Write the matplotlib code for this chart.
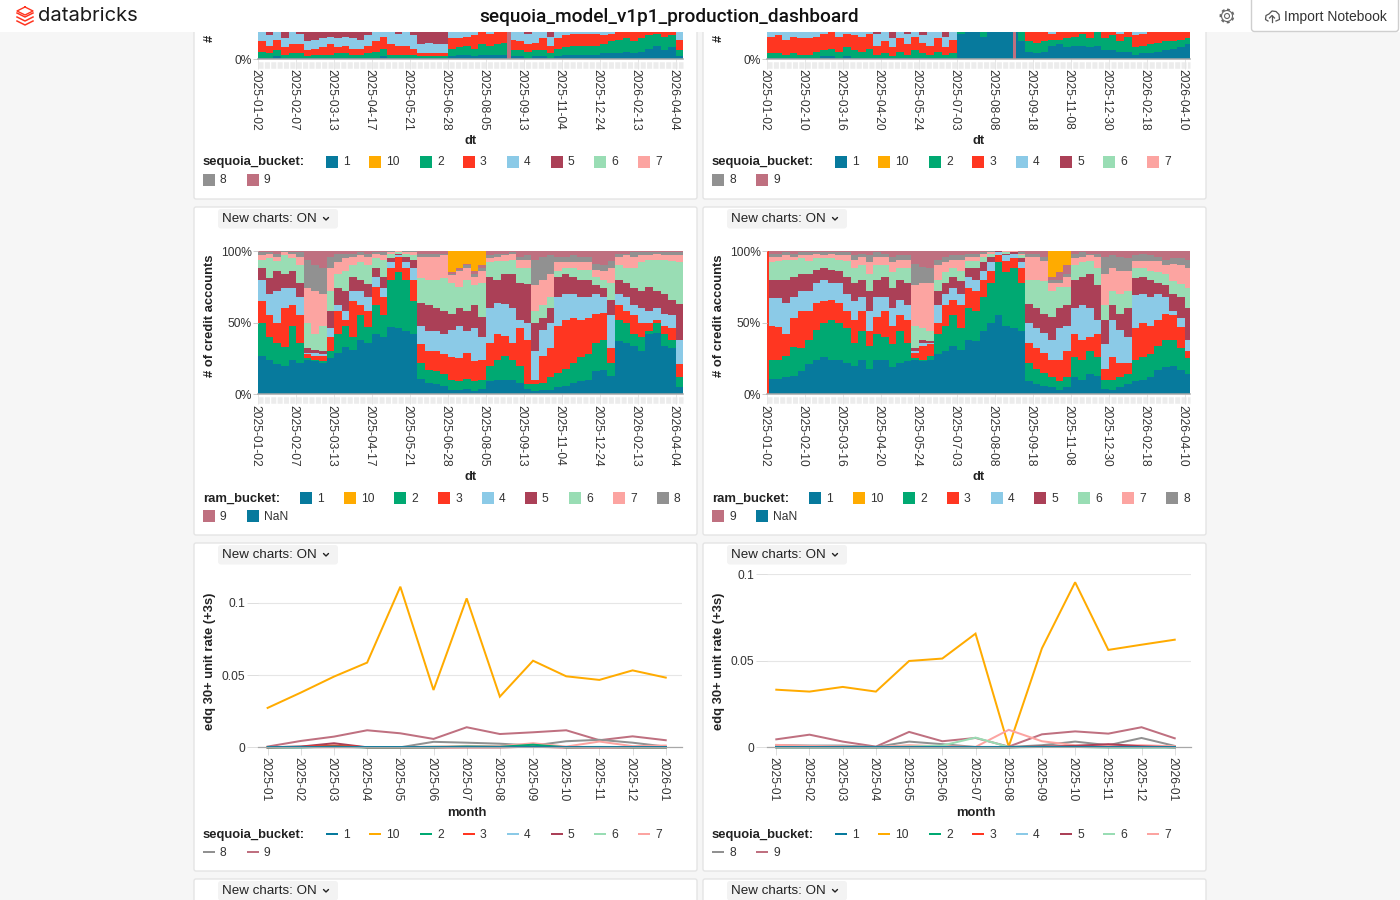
import numpy as np
import matplotlib
matplotlib.use('Agg')
import matplotlib.pyplot as plt
from matplotlib.patches import FancyBboxPatch, Rectangle, Circle
from matplotlib.transforms import ScaledTranslation

plt.rcParams['font.family'] = ['Liberation Sans', 'DejaVu Sans']

W, H = 1400, 900
BG = '#f6f6f6'
BORDER = '#e4e4e4'
TXT = '#222222'
PX = 0.72  # 1 px in points at dpi 100

# -------------------------------------------------------------
# Data
# -------------------------------------------------------------
BUCKETS = ['1', '10', '2', '3', '4', '5', '6', '7', '8', '9']
COLORS = {'1': '#077A9D', '10': '#FFAB00', '2': '#00A972', '3': '#FF3621', '4': '#8BCAE7',
          '5': '#AB4057', '6': '#99DDB4', '7': '#FCA4A1', '8': '#919191', '9': '#BF7080',
          'NaN': '#077A9D'}

dt_ticks_a = ['2025-01-02', '2025-02-07', '2025-03-13', '2025-04-17', '2025-05-21', '2025-06-28',
              '2025-08-05', '2025-09-13', '2025-11-04', '2025-12-24', '2026-02-13', '2026-04-04']
dt_ticks_b = ['2025-01-02', '2025-02-10', '2025-03-16', '2025-04-20', '2025-05-24', '2025-07-03',
              '2025-08-08', '2025-09-18', '2025-11-08', '2025-12-30', '2026-02-18', '2026-04-10']
months = ['2025-01', '2025-02', '2025-03', '2025-04', '2025-05', '2025-06', '2025-07',
          '2025-08', '2025-09', '2025-10', '2025-11', '2025-12', '2026-01']

# ram_bucket share, left chart: upper edge of each band in percent
ram_a_1 = [27,24,21,20,24,22,24,23,22,25, 29,33,31,38,36,42,40,47,46,44, 42,11,8,7,6,3,3,4,2,4,
           9,10,10,10,8,4,2,3,3,5, 6,8,9,10,16,17,13,37,36,34, 30,42,43,34,32,5]
ram_a_2 = [50,40,36,33,48,36,25,24,23,30, 42,48,40,55,47,62,55,80,85,80, 65,22,17,16,14,10,9,11,9,10,
           20,24,27,24,20,7,7,8,12,15, 18,22,26,28,36,38,22,52,50,42, 40,44,50,42,38,12]
ram_a_3 = [65,55,50,60,62,55,28,27,27,40, 58,52,65,62,58,75,68,88,96,88, 80,35,30,30,28,26,25,29,23,24,
           36,42,41,36,46,38,10,27,32,48, 52,53,52,53,56,57,32,62,58,55, 50,50,52,48,46,21]
ram_a_4 = [80,70,72,74,74,68,29,29,28,46, 62,58,72,72,68,82,74,92,97,92, 88,48,44,44,42,45,48,44,46,40,
           60,64,63,60,52,50,30,45,50,68, 70,70,68,68,70,68,55,70,68,62, 60,58,60,56,55,38]
ram_a_5 = [88,81,86,84,86,78,32,31,30,58, 74,72,82,80,77,88,82,95,98,96, 94,64,62,60,58,56,60,58,62,54,
           82,80,84,84,78,77,50,53,60,82, 84,82,80,80,76,74,66,80,78,74, 72,75,72,70,66,63]
ram_a_6 = [94,95,93,97,95,90,50,42,48,72, 84,86,90,92,90,95,94,98,99,98, 97,81,80,80,81,78,75,80,76,78,
           92,93,93,94,88,88,58,62,68,86, 88,88,87,87,82,80,78,90,88,88, 92,94,94,94,93,92]
ram_a_7 = [97,98,96,99,98,96,74,72,70,88, 92,95,96,97,96,98,97,99,100,99, 99,96,96,96,97,83,86,88,82,86,
           95,96,97,98,94,94,76,80,84,92, 92,92,92,92,87,86,88,96,97,96, 97,97,98,97,97,97]
ram_a_8 = [99,99,98,100,99,99,94,90,88,96, 98,98,98,99,98,99,99,100,100,100, 100,98,98,98,98,84,87,90,84,88,
           97,98,98,99,96,97,94,96,97,96, 96,97,96,96,91,90,93,98,98,99, 99,99,99,99,99,99]
ram_a_9 = [100,100,100,100,100,100,100,100,100,100, 100,100,100,100,100,100,100,100,100,100,
           100,100,100,100,100,85,88,91,86,90, 100,100,100,100,100,100,100,100,100,100,
           100,100,100,100,100,100,100,100,100,100, 100,100,100,100,100,100]

# ram_bucket share, right chart
ram_b_1 = [11,11,12,13,16,21,24,26,24,24, 22,20,24,18,24,24,19,22,23,24, 23,24,28,30,34,31,38,37,44,50,
           55,48,46,44,9,7,6,5,3,5, 12,10,14,13,4,3,5,7,9,10, 12,17,19,20,17,14]
ram_b_2 = [24,24,27,33,32,38,45,50,52,50, 46,36,44,34,42,40,35,44,36,25, 24,27,42,48,55,46,60,58,68,78,
           92,85,88,78,22,18,15,12,9,12, 26,24,30,26,10,10,12,14,24,26, 28,34,38,38,32,25]
ram_b_3 = [48,47,42,53,58,58,64,65,66,64, 58,52,58,44,54,58,48,55,52,29, 34,35,50,62,66,62,74,72,80,86,
           97,93,95,88,36,32,29,24,24,30, 42,38,40,42,18,26,22,22,46,50, 48,52,56,55,47,30]
ram_b_4 = [67,67,64,68,72,72,78,80,78,78, 70,65,68,58,68,68,60,66,62,30, 36,36,62,70,74,70,82,80,86,92,
           99,97,98,92,50,46,43,38,46,48, 60,62,60,52,35,52,45,40,69,70, 68,70,68,58,53,38]
ram_b_5 = [80,80,80,82,84,84,87,88,87,86, 82,78,80,72,80,82,74,80,78,32, 38,37,72,78,82,79,88,88,92,96,
           100,98,99,95,63,60,56,54,60,62, 80,82,84,76,52,62,56,60,81,82, 80,78,76,70,68,60]
ram_b_6 = [92,93,94,94,95,93,95,95,95,94, 93,88,90,84,90,90,85,88,88,48, 46,44,80,85,88,86,93,93,96,98,
           100,99,99,97,80,80,79,72,75,75, 90,92,93,88,62,72,70,72,88,88, 86,85,84,79,77,74]
ram_b_7 = [96,96,97,96,97,97,98,97,98,97, 97,94,96,92,96,96,92,94,94,76, 78,78,90,92,94,94,96,96,98,99,
           100,100,100,98,96,96,93,78,78,82, 95,96,97,96,84,88,86,86,93,93, 93,93,90,91,90,88]
ram_b_8 = [98,98,99,98,99,99,99,99,99,99, 99,97,98,97,99,98,96,97,97,91, 89,88,94,96,97,97,98,98,99,100,
           100,100,100,99,98,98,96,80,80,84, 98,99,98,98,96,97,96,95,97,98, 97,96,94,95,95,94]
ram_b_9 = [100,100,100,100,100,100,100,100,100,100, 100,100,100,100,100,100,100,100,100,100,
           100,100,100,100,100,100,100,100,100,100, 100,100,100,100,100,100,100,82,85,90,
           100,100,100,100,100,100,100,100,100,100, 100,100,100,100,100,100]

# sequoia_bucket share, only the lowest part is visible under the page header
seq_a_1 = [1,1,2,1,1,1,1,1,1,1, 1,1,1,1,1,1,2,1,1,1, 1,1,1,1,1,2,3,3,2,3,
           3,3,3,2,2,1,2,2,1,2, 3,3,3,3,3,4,4,4,5,4, 5,7,9,6,8,2]
seq_a_2 = [5,4,6,3,4,4,2,3,3,3, 4,4,3,3,4,5,7,3,3,3, 3,2,2,2,2,7,8,9,7,10,
           9,10,11,6,6,5,6,6,4,7, 8,9,9,9,9,10,12,13,14,12, 14,16,17,15,16,6]
seq_a_3 = [12,9,13,8,10,10,6,7,8,10, 8,9,7,7,9,12,15,10,9,9, 7,4,4,4,4,14,14,15,16,18,
           17,18,18,13,12,10,11,14,9,14, 16,17,17,17,17,16,17,18,18,18, 18,19,19,19,19,13]
seq_a_4 = [19,16,19,14,18,17,12,13,14,15, 14,15,14,13,16,19,19,18,17,19, 16,10,11,10,10,19,19,19,19,19,
           19,19,19,19,18,17,19,19,15,19, 19,19,19,19,19,19,19,19,19,19, 19,19,19,19,19,19]

seq_b_1 = [1,1,0.5,1,1, 1,1,2,2,1,2,1,1,1, 1,1,1,1,1,1,1,1,1,1,1, 17,19,19,15,19,19,19,19,
           12, 5,4,5, 9,10,8, 9,9,8,9, 6,6,5,5, 3,4,4,5,6,7,8,10]
seq_b_2 = [4,4,3,4,3, 3,5,6,7,5,8,6,5,7, 3,4,2,5,3,6,4,3,5,3,4, 19,19,19,18,19,19,19,19,
           18, 12,11,12, 13,13,14, 15,17,14,18, 14,16,12,15, 8,9,10,11,12,12,13,14]
seq_b_3 = [15,16,13,15,14, 14,15,17,18,15,17,16,15,17, 9,12,8,14,10,15,11,9,14,8,13, 19,19,19,19,19,19,19,19,
           19, 18,19,18, 17,18,19, 19,19,19,19, 18,19,17,18, 16,17,18,18,19,18,19,19]
seq_b_4 = [19,19,19,19,19, 19,19,19,19,19,19,19,19,19, 17,19,14,19,17,19,16,18,19,15,18, 19,19,19,19,19,19,19,19,
           19, 19,19,19, 19,19,19, 19,19,19,19, 19,19,19,19, 19,19,19,19,19,19,19,19]

# edq 30+ unit rate by month, left chart
edq_a = {
    '10': [.0273,.0379,.049,.0587,.1113,.0397,.1032,.0351,.060,.0492,.0467,.0533,.0483],
    '9': [.0005,.0044,.0074,.0118,.0097,.0058,.0139,.0092,.0104,.0118,.0049,.0076,.0049],
    '8': [0,.0005,.001,0,0,.0038,.0032,.0025,.0012,.0042,.0052,.0032,.0005],
    '7': [0,0,0,0,0,.0005,.001,.0008,.0028,.0005,.004,.0008,.0012],
    '6': [0,0,.0003,0,0,.0004,.0004,.0003,.0006,.0002,.0003,.0001,0],
    '5': [0,.0005,.0028,0,0,0,0,0,.0004,0,0,0,0],
    '4': [0,0,.0002,0,0,0,.0002,.0001,.0003,0,0,0,0],
    '3': [0,.0002,.0012,0,0,0,.0001,.0001,.0003,0,0,0,0],
    '2': [0,0,.0005,0,0,0,.0005,.0003,.0018,0,.0002,0,0],
    '1': [.0002,.0002,.0002,.0002,.0002,.0002,.0002,.0002,.0002,.0002,.0002,.0002,.0002],
}
# right chart
edq_b = {
    '10': [.0333,.0322,.0349,.0322,.0499,.0513,.0657,.0004,.0572,.0954,.0563,.0593,.0622],
    '9': [.0046,.0073,.0033,.0004,.0089,.0035,.0054,.0004,.0075,.0092,.0079,.0116,.0052],
    '8': [.0012,.001,.001,.0002,.0033,.0018,.0002,.0002,.0012,.0033,.0012,.0054,.0008],
    '7': [.0014,.0008,.0005,.0001,.0012,.0006,.0002,.0101,.0035,.0012,.001,.0012,.0006],
    '6': [0,0,0,0,.0004,.001,.0056,.0002,.0002,.0002,0,0,0],
    '5': [0,0,0,0,0,0,0,0,.0005,.0008,.0018,.0006,0],
    '4': [0,0,0,0,0,0,0,0,0,0,0,0,0],
    '3': [0,0,0,0,0,0,0,0,0,0,0,0,0],
    '2': [0,0,0,0,0,0,0,0,.0002,.0002,0,0,0],
    '1': [.0003,.0003,.0003,.0003,.0003,.0003,.0003,.0003,.0003,.0003,.0003,.0003,.0003],
}

# thin one-day columns that stand out from the rest: (x in column units, width, bucket)
spikes_seq_a = [(32.8, 0.45, '9')]
spikes_seq_b = [(32.4, 0.45, '9')]
spikes_ram_b = [(0, 0.3, '3')]

# -------------------------------------------------------------
# Page background and cards
# -------------------------------------------------------------
fig = plt.figure(figsize=(W / 100, H / 100), dpi=100, facecolor=BG)
page = fig.add_axes([0, 0, 1, 1], zorder=0)
page.set_xlim(0, W)
page.set_ylim(H, 0)
page.axis('off')


def px_axes(x0, y0, x1, y1):
    ax = fig.add_axes([x0 / W, 1 - y1 / H, (x1 - x0) / W, (y1 - y0) / H], zorder=1)
    ax.patch.set_alpha(0)
    for s in ['top', 'left', 'right']:
        ax.spines[s].set_visible(False)
    return ax


def nudge_xlabels(ax, dx_px):
    # rotated labels sit a bit right of the tick otherwise
    for lab in ax.get_xticklabels():
        lab.set_transform(lab.get_transform() + ScaledTranslation(dx_px / 100, 0, fig.dpi_scale_trans))


def card(x0, y0, x1, y1):
    page.add_patch(FancyBboxPatch((x0, y0), x1 - x0, y1 - y0, boxstyle='round,pad=0,rounding_size=2',
                                  fc='white', ec=BORDER, lw=1))


def chart_button(x, y):
    page.add_patch(FancyBboxPatch((x, y), 120, 19.5, boxstyle='round,pad=0,rounding_size=3',
                                  fc='#f3f3f3', ec='none'))
    page.text(x + 4, y + 10.5, 'New charts: ON', fontsize=13.4 * PX, color=TXT, va='center', ha='left')
    page.plot([x + 105.5, x + 108, x + 110.5], [y + 8.5, y + 11, y + 8.5], color=TXT, lw=1, solid_capstyle='round')


def stack_chart(x0, y0, x1, y1, tops, names, ticks, ylim, yticks, spikes=(), pct_width=55.96):
    ax = px_axes(x0, y0, x1, y1)
    tops = np.maximum.accumulate(np.array(tops, dtype=float), axis=0)
    cols = np.arange(tops.shape[1])
    base = np.zeros(tops.shape[1])
    for name, top in zip(names, tops):
        ax.bar(cols, top - base, bottom=base, width=1.02, align='edge', color=COLORS[name], lw=0)
        base = top
    for sx, sw, name in spikes:
        ax.bar(sx, 100, width=sw, align='edge', color=COLORS[name], lw=0)
    ax.set_xlim(0, pct_width)
    ax.set_ylim(*ylim)
    ax.set_yticks(yticks)
    ax.set_yticklabels([f'{v}%' for v in yticks])
    ax.set_xticks(cols[::5])
    ax.set_xticklabels(ticks)
    ax.tick_params(axis='x', length=10 * PX, width=0.7, color='#e6e6e6', pad=0.3, labelsize=12 * PX,
                   labelcolor='#333333', labelrotation=-90)
    ax.tick_params(axis='y', length=5 * PX, width=0.7, color='#cccccc', pad=0.8, labelsize=12 * PX,
                   labelcolor='#333333')
    ax.spines['bottom'].set_color('#a8a8a8')
    ax.spines['bottom'].set_linewidth(1.1)
    nudge_xlabels(ax, -2.5)
    # band of light tick blocks right under the axis
    page.plot([x0, x1], [y1 + 5.8, y1 + 5.8], color='#ececec', lw=6.5 * PX, ls=(0, (0.78, 0.2)),
              dash_capstyle='butt')
    return ax


def line_chart(x0, y0, x1, y1, series, ylim, xlim):
    ax = px_axes(x0, y0, x1, y1)
    xs = np.arange(len(months))
    ax.set_axisbelow(True)
    ax.yaxis.grid(True, color='#e6e6e6', lw=0.8)
    for name, vals in series.items():
        ax.plot(xs, vals, color=COLORS[name], lw=2 * PX, solid_joinstyle='miter', clip_on=False)
    ax.set_xlim(*xlim)
    ax.set_ylim(*ylim)
    ax.set_yticks([0, 0.05, 0.1])
    ax.set_yticklabels(['0', '0.05', '0.1'])
    ax.set_xticks(xs)
    ax.set_xticklabels(months)
    ax.tick_params(axis='x', length=8 * PX, width=0.7, color='#dddddd', pad=1.3, labelsize=12 * PX,
                   labelcolor='#333333', labelrotation=-90)
    ax.tick_params(axis='y', length=11 * PX, width=0.7, color='#dddddd', pad=1.5, labelsize=12 * PX,
                   labelcolor='#333333')
    ax.spines['bottom'].set_color('#a8a8a8')
    ax.spines['bottom'].set_linewidth(0.9)
    nudge_xlabels(ax, -2.5)
    return ax


def legend(title, names, xs, y, row2_y, kind='box'):
    page.text(xs[0][0], y + 1, title, fontsize=13 * PX, fontweight='bold', color=TXT, va='center', ha='left')
    for (sx, sy), name in zip(xs[1:], names):
        yy = y if sy == 0 else row2_y
        key = '1' if name == 'NaN' else name
        if kind == 'box':
            page.add_patch(Rectangle((sx, yy - 6), 12, 12, fc=COLORS[key], ec='none'))
        else:
            page.plot([sx, sx + 12], [yy, yy], color=COLORS[key], lw=2 * PX, solid_capstyle='butt')
        page.text(sx + 17, yy + 0.8, name, fontsize=12 * PX, color='#333333', va='center', ha='left')


SEQ_POS = [(203, 0), (326, 0), (369, 0), (420, 0), (463, 0), (507, 0), (551, 0), (594, 0), (638, 0), (203, 1), (247, 1)]
RAM_POS = [(203, 0), (300, 0), (344, 0), (394, 0), (438, 0), (482, 0), (525, 0), (569, 0), (613, 0), (657, 0), (203, 1), (247, 1)]
RAM_NAMES = BUCKETS + ['NaN']
STACK_NAMES = ['1', '2', '3', '4', '5', '6', '7', '8', '9', '10']

for dx in [0, 509]:
    card(194 + dx, -20, 697 + dx, 199)
    card(194 + dx, 207, 697 + dx, 535)
    card(194 + dx, 543, 697 + dx, 871)
    card(194 + dx, 879, 697 + dx, 930)
    for y in [209, 545, 881]:
        chart_button(218 + dx, y)

# -------------------------------------------------------------
# Top row, cut off by the header
# -------------------------------------------------------------
stack_chart(258, 32, 683, 59, [seq_a_1, seq_a_2, seq_a_3, seq_a_4, [100] * 56],
            ['1', '2', '3', '4', '5'], dt_ticks_a, (0, 18.2), [0], spikes_seq_a)
stack_chart(767, 32, 1190, 59, [seq_b_1, seq_b_2, seq_b_3, seq_b_4, [100] * 56],
            ['1', '2', '3', '4', '5'], dt_ticks_b, (0, 18.2), [0], spikes_seq_b, pct_width=55.7)

# -------------------------------------------------------------
# ram_bucket charts
# -------------------------------------------------------------
stack_chart(258, 251, 683, 394.3,
            [ram_a_1, ram_a_2, ram_a_3, ram_a_4, ram_a_5, ram_a_6, ram_a_7, ram_a_8, ram_a_9, [100] * 56],
            STACK_NAMES, dt_ticks_a, (0, 100), [0, 50, 100])
stack_chart(767, 251, 1190, 394.3,
            [ram_b_1, ram_b_2, ram_b_3, ram_b_4, ram_b_5, ram_b_6, ram_b_7, ram_b_8, ram_b_9, [100] * 56],
            STACK_NAMES, dt_ticks_b, (0, 100), [0, 50, 100], spikes_ram_b, pct_width=55.7)

# -------------------------------------------------------------
# Line charts
# -------------------------------------------------------------
line_chart(258, 575, 682, 747.3, edq_a, (0, 0.1194), (-0.29, 12.49))
line_chart(767, 574.3, 1191, 747.3, edq_b, (0, 0.1), (-0.28, 12.49))

# -------------------------------------------------------------
# Axis titles and legends
# -------------------------------------------------------------
for dx, ticks in [(0, dt_ticks_a), (509, dt_ticks_b)]:
    # only the first sign of the top chart's title shows below the header
    page.text(210 + dx, 41.5, '#', rotation=90, fontsize=13 * PX, fontweight='bold',
              color=TXT, va='bottom', ha='center')
    page.text(210 + dx, 316, '# of credit accounts', rotation=90, fontsize=13 * PX, fontweight='bold',
              color=TXT, va='center', ha='center')
    page.text(210 + dx, 661, 'edq 30+ unit rate (+3s)', rotation=90, fontsize=13 * PX, fontweight='bold',
              color=TXT, va='center', ha='center')
    page.text(471 + dx - (1 if dx else 0), 141, 'dt', fontsize=13 * PX, fontweight='bold', color=TXT, va='center', ha='center')
    page.text(471 + dx - (1 if dx else 0), 477, 'dt', fontsize=13 * PX, fontweight='bold', color=TXT, va='center', ha='center')
    page.text(467 + dx, 813, 'month', fontsize=13 * PX, fontweight='bold', color=TXT, va='center', ha='center')

    seq_pos = [(x + dx, r) for x, r in SEQ_POS]
    ram_pos = [(x + dx, r) for x, r in RAM_POS]
    legend('sequoia_bucket:', BUCKETS, seq_pos, 161.5, 179.5)
    legend('ram_bucket:', RAM_NAMES, ram_pos, 498, 516)
    legend('sequoia_bucket:', BUCKETS, seq_pos, 834, 852, kind='line')

# -------------------------------------------------------------
# Page header on top of everything
# -------------------------------------------------------------
head = fig.add_axes([0, 0, 1, 1], zorder=5)
head.set_xlim(0, W)
head.set_ylim(H, 0)
head.axis('off')
head.patch.set_alpha(0)
head.add_patch(Rectangle((0, 0), W, 32, fc='white', ec='none'))
head.text(669.5, 17, 'sequoia_model_v1p1_production_dashboard', fontsize=19 * PX, family='Roboto', fontweight='medium',
          color='#111111', ha='center', va='center')
head.text(38, 16, 'databricks', fontsize=20.2 * PX, family='Inter', color='#1b1b1b', ha='left', va='center')

# logo: stacked layers
red = COLORS['3']
head.plot([25, 33, 25, 17, 25], [7, 11, 15, 11, 7], color=red, lw=1)
for yy in [14, 18, 22]:
    head.plot([17, 25, 33], [yy - 1, yy + 3, yy - 1], color=red, lw=1.1)

# gear
head.add_patch(Circle((1227, 16), 2.5, fc='none', ec='#666666', lw=0.8))
head.add_patch(Circle((1227, 16), 5.5, fc='none', ec='#666666', lw=0.8))
head.add_patch(Circle((1227, 16), 6.6, fc='none', ec='#666666', lw=1.2, ls=(0, (1.8, 1.8))))

# import button
head.add_patch(FancyBboxPatch((1251.5, -4), 147, 35.5, boxstyle='round,pad=0,rounding_size=3', fc='white',
                              ec='#cfcfcf', lw=1))
head.text(1284, 17, 'Import Notebook', fontsize=13.9 * PX, color='#333333', ha='left', va='center')
head.plot([1268, 1265.5, 1266, 1269, 1272, 1276, 1279, 1279.5, 1276],
          [21, 19.5, 15.5, 14, 11, 11.5, 14.5, 19.5, 21], color='#555555', lw=0.9)
head.plot([1272, 1272], [22, 15.5], color='#555555', lw=0.9)
head.plot([1269.5, 1272, 1274.5], [18, 15.5, 18], color='#555555', lw=0.9)

fig.savefig('out.png', dpi=100, facecolor=BG)
